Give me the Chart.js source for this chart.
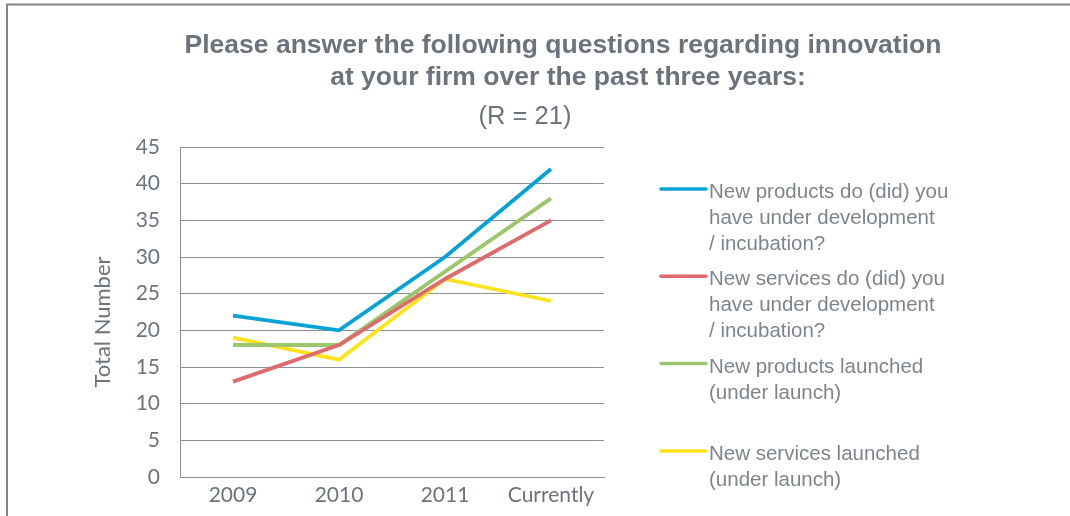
<!DOCTYPE html>
<html>
<head>
<meta charset="utf-8">
<script src="https://cdn.jsdelivr.net/npm/chart.js@4"></script>
<style>
  html, body { margin: 0; padding: 0; background: #ffffff; }
  #wrap { position: relative; width: 1070px; height: 516px; }
</style>
</head>
<body>
<div id="wrap"><canvas id="c" width="1070" height="516"></canvas></div>
<script>
const categories = ["2009", "2010", "2011", "Currently"];
const newProductsDev = [22, 20, 30, 42];
const newServicesDev = [13, 18, 27, 35];
const newProductsLaunched = [18, 18, 28, 38];
const newServicesLaunched = [19, 16, 27, 24];
const seriesLabels = [
  ["New products do (did) you", "have under development", "/ incubation?"],
  ["New services do (did) you", "have under development", "/ incubation?"],
  ["New products launched", "(under launch)"],
  ["New services launched", "(under launch)"]
];
const seriesColors = ["#06a2d6", "#de6b6b", "#9cc56e", "#fde31c"];
const titleLines = ["Please answer the following questions regarding innovation", "at your firm over the past three years:"];
const subtitleText = "(R = 21)";
const yAxisTitle = "Total Number";

const textGray = "#6c737b";
const gridGray = "#8b9098";

const decorPlugin = {
  id: "decor",
  beforeDraw(chart) {
    const ctx = chart.ctx;
    ctx.save();
    ctx.strokeStyle = "#7f858c";
    ctx.lineWidth = 2;
    ctx.beginPath();
    ctx.moveTo(7, 516);
    ctx.lineTo(7, 4.5);
    ctx.lineTo(1070, 4.5);
    ctx.stroke();
    ctx.restore();
  },
  afterDraw(chart) {
    const ctx = chart.ctx;
    ctx.save();
    // Title
    ctx.fillStyle = textGray;
    ctx.textAlign = "center";
    ctx.textBaseline = "alphabetic";
    ctx.font = "bold 26.5px 'Liberation Sans', Arial, sans-serif";
    ctx.fillText(titleLines[0], 563, 53);
    ctx.fillText(titleLines[1], 568, 85);
    ctx.font = "25.5px 'Liberation Sans', Arial, sans-serif";
    ctx.fillText(subtitleText, 525, 124);
    // Y axis title
    ctx.save();
    ctx.translate(103, 322);
    ctx.rotate(-Math.PI / 2);
    ctx.textBaseline = "middle";
    ctx.font = "22px Lato, 'Open Sans', sans-serif";
    ctx.fillText(yAxisTitle, 0, 0);
    ctx.restore();
    // Legend
    ctx.textAlign = "left";
    ctx.textBaseline = "alphabetic";
    ctx.font = "20.5px 'Liberation Sans', Arial, sans-serif";
    const ds = chart.data.datasets;
    const y0 = 189, step = 87.3;
    ds.forEach((d, i) => {
      const y = y0 + i * step;
      ctx.strokeStyle = d.borderColor;
      ctx.lineWidth = 3.5;
      ctx.lineCap = "round";
      ctx.beginPath();
      ctx.moveTo(661, y);
      ctx.lineTo(706, y);
      ctx.stroke();
      ctx.fillStyle = "#7d848c";
      seriesLabels[i].forEach((ln, j) => {
        ctx.fillText(ln, 709, y + 9 + j * 26);
      });
    });
    ctx.restore();
  }
};

const datasets = [newProductsDev, newServicesDev, newProductsLaunched, newServicesLaunched].map((vals, i) => ({
  label: seriesLabels[i].join(" "),
  data: vals,
  borderColor: seriesColors[i],
  backgroundColor: seriesColors[i],
  borderWidth: 3.8,
  pointRadius: 0,
  pointHoverRadius: 0,
  tension: 0,
  fill: false
}));

new Chart(document.getElementById("c"), {
  type: "line",
  data: { labels: categories, datasets },
  plugins: [decorPlugin],
  options: {
    responsive: false,
    animation: false,
    devicePixelRatio: 1,
    layout: { padding: { top: 147, right: 466, bottom: 0, left: 7 } },
    plugins: {
      legend: { display: false },
      title: { display: false },
      tooltip: { enabled: false }
    },
    scales: {
      x: {
        offset: true,
        grid: { display: false, drawTicks: false },
        border: { display: true, color: gridGray, width: 1 },
        ticks: { color: textGray, font: { family: "Lato, 'Open Sans', sans-serif", size: 21 }, padding: 6, maxRotation: 0 },
        afterFit(s) { s.height = 39; }
      },
      y: {
        min: 0, max: 45,
        ticks: { stepSize: 5, color: textGray, font: { family: "Lato, 'Open Sans', sans-serif", size: 21 }, padding: 20 },
        grid: { color: gridGray, lineWidth: 1, drawTicks: false },
        border: { display: true, color: gridGray, width: 1 },
        afterFit(s) { s.width = 173; }
      }
    }
  }
});
</script>
</body>
</html>
